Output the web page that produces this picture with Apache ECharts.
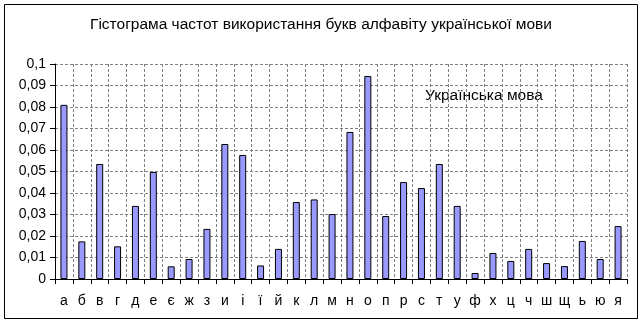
<!DOCTYPE html>
<html><head><meta charset="utf-8">
<script src="https://cdn.jsdelivr.net/npm/echarts@6/dist/echarts.min.js"></script>
<style>html,body{margin:0;padding:0;background:#fff}#c{width:642px;height:327px}</style>
</head><body><div id="c"></div>
<script>
const letters = ['а','б','в','г','д','е','є','ж','з','и','і','ї','й','к','л','м','н','о','п','р','с','т','у','ф','х','ц','ч','ш','щ','ь','ю','я'];
const freq = [0.081,0.0175,0.0535,0.0152,0.034,0.0498,0.0059,0.0093,0.0233,0.0628,0.0577,0.0063,0.014,0.0358,0.037,0.0302,0.0684,0.0944,0.0293,0.0451,0.0423,0.0535,0.034,0.0028,0.0121,0.0084,0.014,0.0074,0.006,0.0177,0.0093,0.0246];
const titleText = 'Гістограма частот використання букв алфавіту української мови';
const seriesName = 'Українська мова';

const chart = echarts.init(document.getElementById('c'));
chart.setOption({
  animation: false,
  backgroundColor: '#fff',
  title: {text: titleText, left: 'center', top: 12,
    textStyle: {fontFamily: 'Liberation Sans', fontSize: 15.5, fontWeight: 'normal', color: '#000'}},
  grid: {left: 55, right: 15, top: 64, bottom: 48},
  xAxis: {type: 'category', data: letters, boundaryGap: true,
    axisLine: {lineStyle: {color: '#000', width: 1}},
    axisTick: {show: true, alignWithLabel: false, length: 5, lineStyle: {color: '#000'}},
    axisLabel: {interval: 0, color: '#000', fontFamily: 'Liberation Sans', fontSize: 14, margin: 15},
    splitLine: {show: true, interval: 0, lineStyle: {color: '#808080', type: [3, 2], width: 1}}},
  yAxis: {type: 'value', min: 0, max: 0.1, interval: 0.01,
    axisLine: {show: true, lineStyle: {color: '#000', width: 1}},
    axisTick: {show: true, length: 5, lineStyle: {color: '#000'}},
    axisLabel: {color: '#000', fontFamily: 'Liberation Sans', fontSize: 14, margin: 9,
      formatter: v => v === 0 ? '0' : String(parseFloat(v.toFixed(2))).replace('.', ',')},
    splitLine: {show: true, lineStyle: {color: '#808080', type: [3, 2], width: 1}}},
  series: [{type: 'bar', name: seriesName, data: freq, barWidth: 7,
    itemStyle: {color: '#9999ff', borderColor: '#000', borderWidth: 1}}],
  graphic: [
    {type: 'rect', shape: {x: 4.5, y: 4.5, width: 633, height: 314}, style: {fill: null, stroke: '#000', lineWidth: 1}, z: 100},
    {type: 'text', left: 425, top: 88, style: {text: seriesName, fontFamily: 'Liberation Sans', fontSize: 15.5, fill: '#000'}}
  ]
});
</script></body></html>
